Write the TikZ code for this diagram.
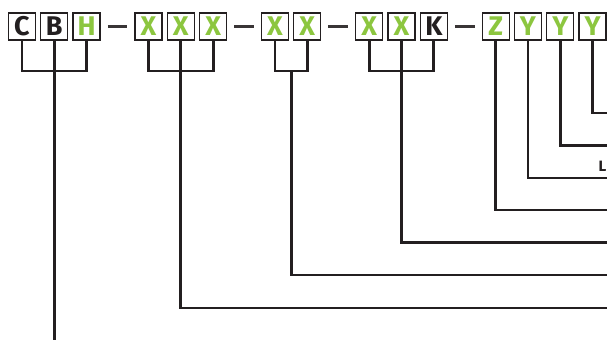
\documentclass[tikz,border=0pt]{standalone}
\usepackage{fontspec}
\setsansfont{Fira Sans}
\usetikzlibrary{positioning, calc}
\definecolor{plategreen}{HTML}{8CC63F}
\definecolor{platedark}{HTML}{231F20}

\begin{document}
\begin{tikzpicture}[
    x=1pt,
    y=-1pt,
    node distance=32.3pt,
    on grid,
    char/.style={rectangle, draw=platedark, line width=1.3pt, fill=white, minimum size=27pt, inner sep=0pt,
                 font=\sffamily\bfseries\fontsize{27}{27}\selectfont},
    fixed/.style={char, text=platedark},
    free/.style={char, text=plategreen},
    bracket/.style={draw=platedark, line width=2.8pt},
    hyphen/.style={draw=platedark!90, line width=2.8pt, shorten >=7pt, shorten <=7pt},
]
    \useasboundingbox (0,0) rectangle (607,340);

    \node[fixed]                     (C)  at (22,26.5) {C};
    \node[fixed, right=of C]         (B)  {B};
    \node[free,  right=of B]         (H)  {H};
    \node[free,  right=61.9pt of H]  (X1) {X};
    \node[free,  right=of X1]        (X2) {X};
    \node[free,  right=of X2]        (X3) {X};
    \node[free,  right=61.9pt of X3] (X4) {X};
    \node[free,  right=of X4]        (X5) {X};
    \node[free,  right=61.9pt of X5] (X6) {X};
    \node[free,  right=of X6]        (X7) {X};
    \node[fixed, right=of X7]        (K)  {K};
    \node[free,  right=61.9pt of K]  (Z)  {Z};
    \node[free,  right=of Z]         (Y1) {Y};
    \node[free,  right=of Y1]        (Y2) {Y};
    \node[free,  right=of Y2]        (Y3) {Y};

    \node[text=platedark, font=\sffamily\bfseries\fontsize{15}{15}\selectfont, inner sep=0pt, anchor=west] (tag) at (598.5,166) {L};

    \coordinate (bar)    at (0,71);
    \coordinate (bottom) at (0,340);
    \foreach \y [count=\i] in {113,145.5,178,210,242.5,275,308}
        \coordinate (row\i) at (607,\y);

    \path
        (H)  edge [hyphen] (X1)
        (X3) edge [hyphen] (X4)
        (X5) edge [hyphen] (X6)
        (K)  edge [hyphen] (Z)
    ;

    \draw[bracket] (C) -- (C |- bar) -- (H |- bar) -- (H);
    \draw[bracket] (B) -- (B |- bottom);
    \draw[bracket] (X1) -- (X1 |- bar) -- (X3 |- bar) -- (X3);
    \draw[bracket] (X2) |- (row7);
    \draw[bracket] (X4) -- (X4 |- bar) -- (X5 |- bar) -- (X5);
    \draw[bracket] ($(X4 |- bar)!0.5!(X5 |- bar)$) |- (row6);
    \draw[bracket] (X6) -- (X6 |- bar) -- (K |- bar) -- (K);
    \draw[bracket] (X7) |- (row5);
    \draw[bracket] (Z)  |- (row4);
    \draw[bracket] (Y1) |- (row3);
    \draw[bracket] (Y2) |- (row2);
    \draw[bracket] (Y3) |- (row1);
\end{tikzpicture}
\end{document}
